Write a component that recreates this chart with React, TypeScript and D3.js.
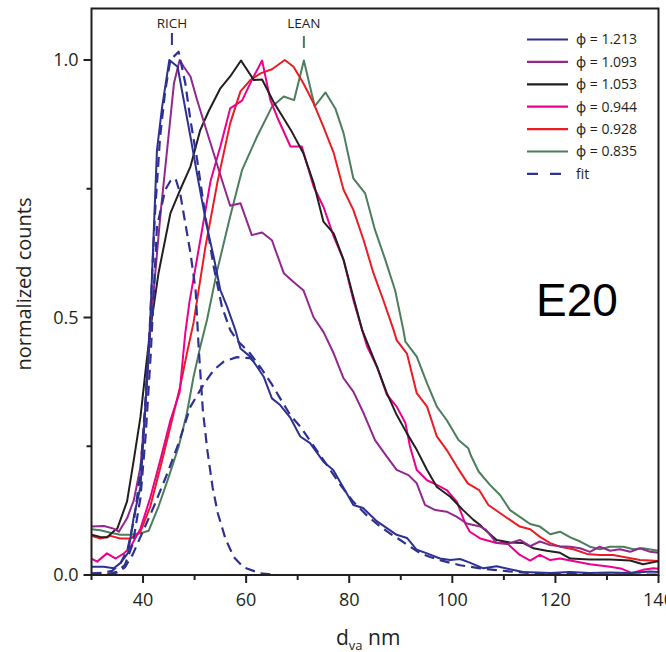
import React from 'react';
import * as d3 from 'd3';

const W = 666;
const H = 652;

// axes
const xDomain: [number, number] = [30, 140];
const yDomain: [number, number] = [0, 1.1];
const xMajorTicks = [40, 60, 80, 100, 120, 140];
const xMinorTicks = [30, 50, 70, 90, 110, 130];
const yMajorTicks = [0, 0.5, 1.0];
const yMinorTicks = [0.25, 0.75];

// series: [d_va (nm), normalized counts]
const phi1213: [number, number][] = [
  [30, 0.016], [32.4, 0.016], [34.3, 0.013], [35.6, 0.023], [37.1, 0.043], [38.2, 0.113], [39.5, 0.171],
  [40.3, 0.3], [41.4, 0.495], [42.7, 0.825], [43.7, 0.909], [45.1, 1.0], [46.7, 0.987], [49.2, 0.851],
  [50.8, 0.761], [52.4, 0.676], [53.7, 0.618], [55.0, 0.553], [56.3, 0.521], [57.9, 0.476], [58.9, 0.44],
  [60.8, 0.424], [63.4, 0.385], [65.0, 0.343], [66.6, 0.33], [68.6, 0.305], [70.5, 0.269], [72.4, 0.256],
  [75.0, 0.22], [76.9, 0.204], [78.8, 0.171], [80.8, 0.136], [82.7, 0.13], [85.4, 0.104], [87.3, 0.091],
  [89.2, 0.078], [91.2, 0.072], [93.1, 0.049], [95.1, 0.042], [97.6, 0.032], [99.6, 0.029], [101.5, 0.031],
  [103.4, 0.024], [106.0, 0.013], [108.6, 0.017], [111.2, 0.011], [113.7, 0.006], [116.5, 0.005], [119, 0.004],
  [122.8, 0.006], [126.7, 0.004], [130.6, 0.005], [134.5, 0.004], [138.3, 0.007], [140, 0.006],
];

const phi1093: [number, number][] = [
  [30, 0.094], [32.4, 0.095], [34.3, 0.09], [35.3, 0.084], [36.9, 0.11], [38.2, 0.145], [39.5, 0.21],
  [40.5, 0.33], [41.4, 0.476], [43.4, 0.703], [45.2, 0.877], [46.0, 0.955], [47.1, 1.0], [47.9, 0.987],
  [49.2, 0.968], [50.5, 0.922], [52.1, 0.87], [53.7, 0.819], [55.3, 0.767], [56.9, 0.717], [58.9, 0.722],
  [61.1, 0.66], [63.1, 0.665], [65.0, 0.65], [67.3, 0.586], [69.2, 0.569], [71.1, 0.553], [73.1, 0.5],
  [75.0, 0.472], [77.0, 0.43], [78.9, 0.382], [80.8, 0.356], [82.8, 0.314], [85.0, 0.262], [87.3, 0.23],
  [89.2, 0.204], [91.5, 0.194], [93.1, 0.178], [94.7, 0.136], [96.7, 0.126], [98.9, 0.123], [100.9, 0.113],
  [102.8, 0.1], [105.4, 0.094], [106.5, 0.088], [108.6, 0.062], [110.6, 0.06], [113.1, 0.068], [115.1, 0.056],
  [117.0, 0.065], [119.0, 0.058], [120.9, 0.056], [122.9, 0.055], [124.8, 0.052], [126.7, 0.045], [128.6, 0.055],
  [130.6, 0.047], [132.5, 0.05], [134.5, 0.045], [136.4, 0.052], [138.4, 0.045], [140, 0.043],
];

const phi1053: [number, number][] = [
  [30, 0.078], [31.7, 0.074], [33.0, 0.073], [34.3, 0.085], [35.0, 0.09], [36.9, 0.143], [38.2, 0.223],
  [39.5, 0.307], [40.5, 0.398], [41.4, 0.476], [43.0, 0.586], [45.3, 0.702], [47.2, 0.748], [49.2, 0.793],
  [51.1, 0.864], [52.7, 0.9], [55.0, 0.945], [56.9, 0.968], [59.0, 0.999], [61.5, 0.961], [63.1, 0.962],
  [65.3, 0.919], [68.9, 0.86], [71.1, 0.819], [73.1, 0.761], [75.0, 0.686], [77.0, 0.663], [78.9, 0.612],
  [80.8, 0.54], [82.5, 0.476], [85.4, 0.404], [87.3, 0.353], [89.2, 0.311], [91.2, 0.275], [93.1, 0.243],
  [95.1, 0.204], [97.0, 0.171], [99.6, 0.152], [102.1, 0.126], [104.1, 0.107], [105.4, 0.097], [106.0, 0.091],
  [108.6, 0.068], [111.2, 0.063], [113.8, 0.062], [115.7, 0.052], [118.3, 0.047], [120.9, 0.043], [122.9, 0.032],
  [126.7, 0.03], [130.6, 0.03], [134.5, 0.028], [137.0, 0.021], [139.6, 0.026], [140, 0.026],
];

const phi0944: [number, number][] = [
  [30, 0.032], [31.1, 0.026], [33.0, 0.042], [34.7, 0.032], [36.3, 0.042], [37.6, 0.055], [39.5, 0.09],
  [41.4, 0.15], [43.4, 0.225], [45.3, 0.3], [47.1, 0.355], [48.2, 0.47], [49.0, 0.53], [51.1, 0.65],
  [53.1, 0.765], [55.0, 0.832], [56.9, 0.906], [59.2, 0.921], [61.1, 0.961], [63.1, 0.999], [64.7, 0.922],
  [66.3, 0.883], [68.6, 0.832], [70.8, 0.832], [73.1, 0.754], [75.0, 0.715], [77.0, 0.657], [78.9, 0.612],
  [80.8, 0.534], [82.5, 0.476], [83.5, 0.443], [85.4, 0.404], [87.3, 0.35], [89.2, 0.327], [90.9, 0.295],
  [91.8, 0.249], [93.1, 0.204], [95.1, 0.184], [97.0, 0.175], [98.9, 0.165], [100.9, 0.142], [102.5, 0.1],
  [103.4, 0.084], [105.4, 0.071], [108.6, 0.062], [110.6, 0.062], [113.1, 0.039], [115.1, 0.028], [117.0, 0.039],
  [119.0, 0.029], [120.9, 0.032], [122.9, 0.028], [126.7, 0.021], [130.6, 0.016], [132.9, 0.012], [134.8, 0.004],
  [137.0, 0.01], [139.0, 0.013], [140, 0.012],
];

const phi0928: [number, number][] = [
  [30, 0.076], [31.7, 0.071], [33.7, 0.076], [35.6, 0.071], [37.6, 0.071], [39.5, 0.084], [41.4, 0.133],
  [43.4, 0.21], [45.3, 0.288], [47.2, 0.366], [48.5, 0.43], [49.8, 0.49], [52.1, 0.637], [54.4, 0.761],
  [56.9, 0.877], [58.9, 0.939], [60.8, 0.961], [62.8, 0.974], [65.0, 0.982], [67.5, 1.0], [69.2, 0.987],
  [71.1, 0.955], [73.1, 0.916], [75.0, 0.87], [77.0, 0.819], [78.9, 0.748], [80.8, 0.709], [82.8, 0.65],
  [84.7, 0.586], [86.6, 0.534], [88.6, 0.476], [89.2, 0.456], [91.2, 0.43], [93.1, 0.353], [95.1, 0.327],
  [97.0, 0.269], [98.9, 0.243], [100.9, 0.21], [103.0, 0.178], [105.2, 0.165], [107.0, 0.136], [109.3, 0.12],
  [111.2, 0.107], [113.1, 0.094], [115.1, 0.089], [117.0, 0.074], [119.0, 0.062], [120.9, 0.055], [123.5, 0.05],
  [126.1, 0.041], [128.6, 0.039], [131.2, 0.039], [133.8, 0.034], [136.4, 0.029], [138.4, 0.028], [140, 0.027],
];

const phi0835: [number, number][] = [
  [30, 0.089], [31.7, 0.087], [33.7, 0.082], [35.6, 0.078], [37.6, 0.078], [39.5, 0.081], [41.1, 0.086],
  [43.0, 0.133], [45.0, 0.191], [46.9, 0.249], [48.5, 0.314], [49.8, 0.385], [51.1, 0.443], [52.4, 0.495],
  [54.4, 0.592], [56.9, 0.696], [59.2, 0.786], [62.1, 0.851], [65.0, 0.909], [67.3, 0.929], [69.3, 0.922],
  [71.2, 0.999], [73.3, 0.91], [75.4, 0.937], [77.3, 0.906], [78.9, 0.858], [80.8, 0.77], [83.1, 0.741],
  [85.0, 0.67], [87.0, 0.612], [88.9, 0.553], [90.5, 0.476], [90.9, 0.453], [93.1, 0.424], [95.1, 0.372],
  [97.0, 0.327], [98.9, 0.301], [101.2, 0.262], [103.1, 0.246], [103.6, 0.232], [105.1, 0.201], [107.3, 0.175],
  [109.3, 0.155], [111.2, 0.126], [113.1, 0.113], [115.1, 0.099], [117.0, 0.094], [119.0, 0.079], [120.9, 0.084],
  [122.9, 0.073], [124.8, 0.065], [126.7, 0.055], [128.6, 0.05], [130.6, 0.055], [133.2, 0.055], [135.1, 0.05],
  [137.0, 0.052], [138.7, 0.049], [140, 0.047],
];

// bimodal fit of phi = 1.213 (total, narrow mode, broad mode)
const fitTotal: [number, number][] = [
  [30, 0.003], [32, 0.004], [34, 0.008], [35.6, 0.022], [37, 0.05], [38.3, 0.11], [39.5, 0.2], [40.4, 0.33],
  [41.3, 0.48], [42.3, 0.7], [43.3, 0.85], [44.3, 0.94], [45.3, 1.0], [46.9, 1.016], [48.2, 0.955], [49.2, 0.883],
  [50.5, 0.806], [52.1, 0.696], [53.7, 0.599], [55.3, 0.521], [56.9, 0.476], [58.2, 0.456], [60.8, 0.43],
  [63.0, 0.4], [65.0, 0.37], [66.6, 0.343], [68.6, 0.31], [70.5, 0.288], [73.5, 0.245], [76.3, 0.204],
  [78.5, 0.172], [80.8, 0.142], [83.5, 0.115], [86.0, 0.094], [88, 0.08], [89.9, 0.068], [91.8, 0.055],
  [93.8, 0.042], [95.7, 0.035], [97.6, 0.029], [99.5, 0.024], [101.5, 0.019], [103.5, 0.016], [105.4, 0.013],
  [108, 0.01], [111, 0.007], [115, 0.004], [120, 0.003], [125, 0.002], [130, 0.001], [140, 0.001],
];

const fitNarrow: [number, number][] = [
  [30, 0], [33, 0.001], [35, 0.006], [36.5, 0.02], [38, 0.06], [39.5, 0.15], [40.5, 0.27], [41.5, 0.43],
  [42.7, 0.676], [44.3, 0.748], [45.3, 0.765], [46.3, 0.77], [47.2, 0.741], [48.2, 0.683], [49.2, 0.625],
  [50.2, 0.553], [50.8, 0.44], [51.6, 0.32], [52.5, 0.24], [53.5, 0.17], [54.5, 0.12], [56, 0.07],
  [57.6, 0.035], [59.5, 0.015], [62.8, 0.003], [66, 0], [140, 0],
];

const fitBroad: [number, number][] = [
  [30, 0], [33, 0.001], [35, 0.005], [36.5, 0.015], [38, 0.04], [39.5, 0.074], [42.1, 0.133], [44.7, 0.197],
  [46.9, 0.256], [49.2, 0.327], [51.1, 0.359], [52.1, 0.375], [53.7, 0.398], [55.6, 0.414], [58.2, 0.423],
  [60.8, 0.421], [62.8, 0.401],
];

const legendLabels = ['ϕ = 1.213', 'ϕ = 1.093', 'ϕ = 1.053', 'ϕ = 0.944', 'ϕ = 0.928', 'ϕ = 0.835', 'fit'];
const legendColors = ['#2e3192', '#92278f', '#231f20', '#ec008c', '#ed1c24', '#4c7d5c', '#2e3192'];

const markerLabels = ['RICH', 'LEAN'];
const markerPositions = [45.6, 71.2];
const markerColors = ['#2e3192', '#4c7d5c'];

const FONT = "'Open Sans', 'Noto Sans', sans-serif";

export default function App() {
  const left = 91.5;
  const right = 658.5;
  const top = 8.5;
  const bottom = 575;

  const x = d3.scaleLinear().domain(xDomain).range([left, right]);
  const y = d3.scaleLinear().domain(yDomain).range([bottom, top]);
  const line = d3
    .line<[number, number]>()
    .x((d) => x(d[0]))
    .y((d) => y(d[1]));

  const solid = [
    { data: phi0835, color: legendColors[5] },
    { data: phi0928, color: legendColors[4] },
    { data: phi0944, color: legendColors[3] },
    { data: phi1053, color: legendColors[2] },
    { data: phi1093, color: legendColors[1] },
  ];
  const fits = [fitBroad, fitNarrow, fitTotal];

  const axisColor = '#231f20';

  return (
    <svg
      width={W}
      height={H}
      style={{ position: 'absolute', left: 0, top: 0, background: '#fff' }}
    >
      <defs>
        <clipPath id="plotClip">
          <rect x={left} y={0} width={right - left} height={bottom - 0} />
        </clipPath>
      </defs>

      {/* data */}
      <g clipPath="url(#plotClip)" fill="none" strokeLinejoin="round">
        {solid.map((s, i) => (
          <path key={i} d={line(s.data) || ''} stroke={s.color} strokeWidth={2} />
        ))}
        {fits.map((f, i) => (
          <path
            key={'f' + i}
            d={line(f) || ''}
            stroke={legendColors[6]}
            strokeWidth={2.2}
            strokeDasharray="10,6"
          />
        ))}
        <path d={line(phi1213) || ''} stroke={legendColors[0]} strokeWidth={2} />
      </g>

      {/* RICH / LEAN markers */}
      {markerLabels.map((m, i) => (
        <g key={m}>
          <text
            x={x(markerPositions[i])}
            y={28}
            textAnchor="middle"
            fontFamily={FONT}
            fontSize={13.5}
            fill={axisColor}
          >
            {m}
          </text>
          <line
            x1={x(markerPositions[i])}
            x2={x(markerPositions[i])}
            y1={i === 0 ? 33 : 36}
            y2={i === 0 ? 45 : 48}
            stroke={markerColors[i]}
            strokeWidth={2}
          />
        </g>
      ))}

      {/* frame */}
      <rect
        x={left}
        y={top}
        width={right - left}
        height={bottom - top}
        fill="none"
        stroke={axisColor}
        strokeWidth={2}
      />

      {/* x ticks */}
      {xMajorTicks.map((t) => (
        <g key={'xt' + t}>
          <line x1={x(t)} x2={x(t)} y1={bottom} y2={bottom + 8} stroke={axisColor} strokeWidth={2} />
          <text
            x={x(t)}
            y={606}
            textAnchor="middle"
            fontFamily={FONT}
            fontSize={18}
            fill={axisColor}
          >
            {t}
          </text>
        </g>
      ))}
      {xMinorTicks.map((t) => (
        <line key={'xm' + t} x1={x(t)} x2={x(t)} y1={bottom} y2={bottom + 5} stroke={axisColor} strokeWidth={2} />
      ))}

      {/* y ticks */}
      {yMajorTicks.map((t) => (
        <g key={'yt' + t}>
          <line x1={left - 8} x2={left} y1={y(t)} y2={y(t)} stroke={axisColor} strokeWidth={2} />
          <text
            x={left - 13}
            y={y(t)}
            dy="0.35em"
            textAnchor="end"
            fontFamily={FONT}
            fontSize={18}
            fill={axisColor}
          >
            {d3.format('.1f')(t)}
          </text>
        </g>
      ))}
      {yMinorTicks.map((t) => (
        <line key={'ym' + t} x1={left - 5} x2={left} y1={y(t)} y2={y(t)} stroke={axisColor} strokeWidth={2} />
      ))}

      {/* axis titles */}
      <text
        transform="translate(31,284) rotate(-90)"
        textAnchor="middle"
        fontFamily={FONT}
        fontSize={20}
        fill={axisColor}
      >
        normalized counts
      </text>
      <text x={336} y={645} fontFamily={FONT} fontSize={21} fill={axisColor}>
        d
        <tspan fontSize={13} dy={5}>va</tspan>
        <tspan dy={-5}> nm</tspan>
      </text>

      {/* panel label */}
      <text
        x={536}
        y={316}
        fontFamily="'Liberation Sans', Arial, sans-serif"
        fontSize={46}
        fill="#000"
      >
        E20
      </text>

      {/* legend */}
      {legendLabels.map((lab, i) => {
        const ly = 39.5 + i * 22.4;
        return (
          <g key={lab}>
            <line
              x1={527}
              x2={568}
              y1={ly}
              y2={ly}
              stroke={legendColors[i]}
              strokeWidth={2.2}
              strokeDasharray={i === 6 ? '11,12' : undefined}
            />
            <text
              x={576}
              y={ly}
              dy="0.35em"
              fontFamily={FONT}
              fontSize={14}
              fill={axisColor}
            >
              {lab}
            </text>
          </g>
        );
      })}
    </svg>
  );
}
